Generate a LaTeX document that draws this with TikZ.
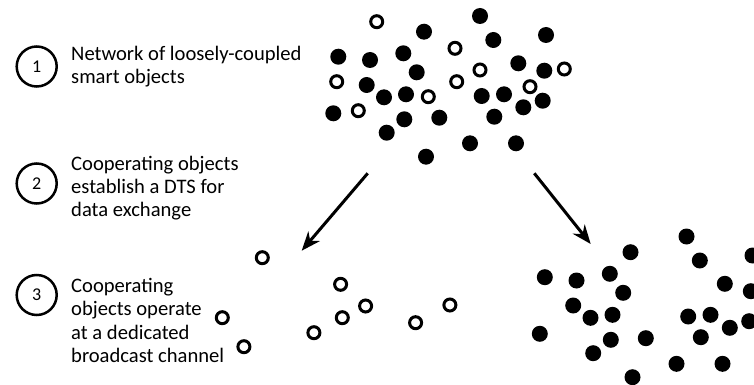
\documentclass[tikz,border=0pt]{standalone}
\usepackage{fontspec}
\setmainfont{Carlito}
\usetikzlibrary{arrows.meta}
\begin{document}
\begin{tikzpicture}[x=1pt,y=-1pt,
  fulldot/.style={circle,fill=black,inner sep=0pt,minimum size=16pt},
  ringdot/.style={circle,draw=black,line width=3pt,inner sep=0pt,minimum size=12pt},
  stepnum/.style={circle,draw=black,line width=2.5pt,inner sep=0pt,minimum size=40pt,font=\fontsize{18}{18}\selectfont},
  steptext/.style={anchor=base west,inner sep=0pt,align=left,font=\fontsize{20.6}{23.2}\selectfont},
  flow/.style={line width=3pt,-{Stealth[length=19pt,width=15pt,inset=6pt]}}]
\useasboundingbox (0,0) rectangle (754,385);

% step labels (text nodes are placed by the baseline of their last line)
\node[stepnum] (n1) at (36.7,66.5) {1};
\node[stepnum] (n2) at (36.7,183.5) {2};
\node[stepnum] (n3) at (36.7,295) {3};
\node[steptext] (t1) at (71,83.5) {Network of loosely-coupled\\smart objects};
\node[steptext] (t2) at (71,216.9) {Cooperating objects\\establish a DTS for\\data exchange};
\node[steptext] (t3) at (71,362.3) {Cooperating\\objects operate\\at a dedicated\\broadcast channel};

% object positions
\def\fullset{480/16, 424/31.7, 493.3/40, 546/35, 338.3/56.7, 370/60, 403.3/53.3,
  416.7/72.3, 518.3/63.3, 544.3/70.7, 366.7/85, 384/97.3, 406/94.3, 481.7/96,
  504/94.3, 542.7/100.7, 523.3/107.3, 333.3/113.3, 404.3/119.3, 439.3/117.7,
  494.3/116.7, 386.7/132.7, 470/143.3, 516/143.3, 426/156.7}
\def\ringset{376.7/21.7, 455/48.3, 336.7/81.7, 358.3/110.7, 428.3/96.7,
  456.7/81.7, 480/70, 530/86.7, 564.3/69}

% network of smart objects
\foreach \px/\py [count=\i] in \fullset
  \node[fulldot] (a\i) at (\px,\py) {};
\foreach \px/\py [count=\i] in \ringset
  \node[ringdot] (b\i) at (\px,\py) {};

% cooperating objects on the broadcast channel
\begin{scope}[shift={(-114.4,236)}]
\foreach \px/\py [count=\i] in \ringset
  \node[ringdot] (c\i) at (\px,\py) {};
\end{scope}

% remaining objects
\begin{scope}[shift={(206.5,220.5)}]
\foreach \px/\py [count=\i] in \fullset
  \node[fulldot] (d\i) at (\px,\py) {};
\end{scope}

% split arrows
\coordinate (la) at (367.7,173.3);
\coordinate (lb) at (301.7,250.7);
\coordinate (ra) at (534.3,173.3);
\coordinate (rb) at (590.7,244);
\draw[flow] (la) -- (lb);
\draw[flow] (ra) -- (rb);
\end{tikzpicture}
\end{document}
